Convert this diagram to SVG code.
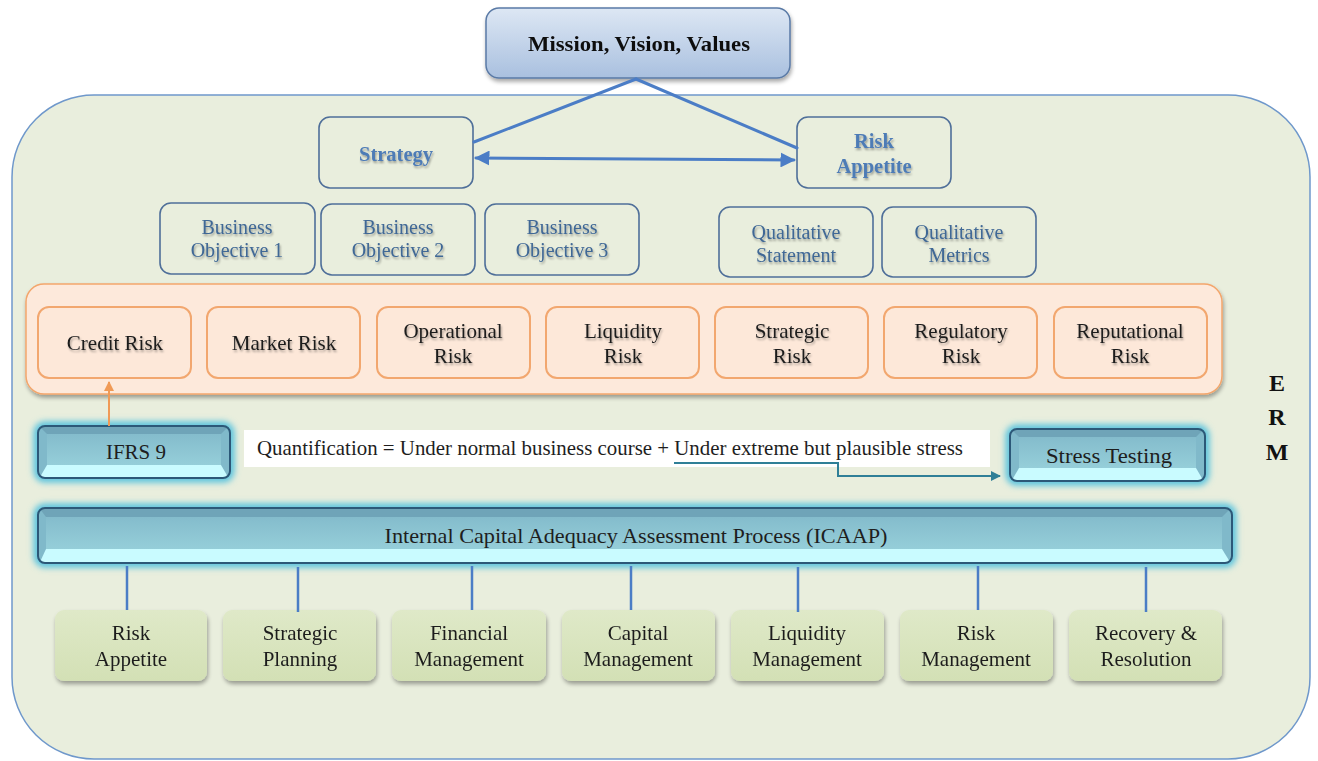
<svg xmlns="http://www.w3.org/2000/svg" width="1318" height="761" viewBox="0 0 1318 761">
  <defs>
    <style>
      .t { font-family: "Liberation Serif", "Times New Roman", serif; text-anchor: middle; }
      .blk { fill: #1e1e1e; font-size: 21px; }
      .obj { fill: #3f6795; font-size: 20px; }
      .head { fill: #4e7bb6; font-size: 20.5px; font-weight: bold; }
      .erm { fill: #111; font-size: 24px; font-weight: bold; }
      .outline { fill: none; stroke: #4f6f99; stroke-width: 1.6; }
      .risk { fill: #fde8d9; stroke: #f2a76f; stroke-width: 2; }
      .func { fill: url(#funcGrad); }
      .link { stroke: #4b7dc6; stroke-width: 3; fill: none; stroke-linecap: round; }
      .drop { stroke: #4b7dc6; stroke-width: 2.5; fill: none; }
      .bevOut { fill: none; stroke: #2c5878; stroke-width: 2; }
      .bTop { fill: #6fa4b8; }
      .bSide { fill: #80b9ca; }
      .bBot { fill: #c9fbff; }
      .bFace { fill: url(#faceGrad); }
      .glow { fill: none; stroke: #56c2de; stroke-width: 9; filter: url(#blur3); }
    </style>
    <linearGradient id="missionGrad" x1="0" y1="0" x2="0" y2="1">
      <stop offset="0" stop-color="#dde7f4"/>
      <stop offset="1" stop-color="#a9c0df"/>
    </linearGradient>
    <linearGradient id="funcGrad" x1="0" y1="0" x2="0" y2="1">
      <stop offset="0" stop-color="#dfe9c8"/>
      <stop offset="1" stop-color="#d3e0b5"/>
    </linearGradient>
    <linearGradient id="faceGrad" x1="0" y1="0" x2="0" y2="1">
      <stop offset="0" stop-color="#84bccc"/>
      <stop offset="1" stop-color="#95ced9"/>
    </linearGradient>
    <filter id="blur3" x="-10%" y="-40%" width="120%" height="180%">
      <feGaussianBlur stdDeviation="3"/>
    </filter>
    <filter id="shadow" x="-10%" y="-10%" width="120%" height="130%">
      <feGaussianBlur in="SourceAlpha" stdDeviation="2"/>
      <feOffset dx="1" dy="3"/>
      <feComponentTransfer><feFuncA type="linear" slope="0.35"/></feComponentTransfer>
      <feMerge><feMergeNode/><feMergeNode in="SourceGraphic"/></feMerge>
    </filter>
    <filter id="txtShadow" x="-10%" y="-20%" width="120%" height="150%">
      <feGaussianBlur in="SourceAlpha" stdDeviation="1.2"/>
      <feOffset dx="1" dy="2"/>
      <feComponentTransfer><feFuncA type="linear" slope="0.35"/></feComponentTransfer>
      <feMerge><feMergeNode/><feMergeNode in="SourceGraphic"/></feMerge>
    </filter>
    <marker id="arrBlue" viewBox="0 0 10 10" refX="9" refY="5" markerWidth="5" markerHeight="5" orient="auto-start-reverse">
      <path d="M0,0 L10,5 L0,10 Z" fill="#4b7dc6"/>
    </marker>
    <marker id="arrOrange" viewBox="0 0 10 10" refX="9" refY="5" markerWidth="5" markerHeight="5" orient="auto">
      <path d="M0,0 L10,5 L0,10 Z" fill="#f09a56"/>
    </marker>
    <marker id="arrTeal" viewBox="0 0 10 10" refX="9" refY="5" markerWidth="5" markerHeight="5" orient="auto">
      <path d="M0,0 L10,5 L0,10 Z" fill="#2f7f97"/>
    </marker>
  </defs>

  <rect width="1318" height="761" fill="#ffffff"/>

  <!-- ERM frame -->
  <g id="erm-frame">
    <rect x="12" y="95" width="1298" height="664" rx="82" fill="#e9eedd" stroke="#6f98cb" stroke-width="1.5"/>
    <text class="t erm" x="1277" y="391">E</text>
    <text class="t erm" x="1277" y="425">R</text>
    <text class="t erm" x="1277" y="460">M</text>
  </g>

  <!-- top level -->
  <g id="mission" filter="url(#shadow)">
    <rect x="486" y="8" width="304" height="70" rx="13" fill="url(#missionGrad)" stroke="#5a7aa6" stroke-width="1.5"/>
    <text class="t" x="639" y="51" font-size="21" font-weight="bold" fill="#111" textLength="222" lengthAdjust="spacingAndGlyphs">Mission, Vision, Values</text>
  </g>

  <g id="strategy">
    <rect class="outline" x="319" y="117" width="154" height="71" rx="11"/>
    <text class="t head" x="396" y="161" filter="url(#txtShadow)">Strategy</text>
  </g>
  <g id="risk-appetite-top">
    <rect class="outline" x="797" y="117" width="154" height="71" rx="11"/>
    <text class="t head" x="874" y="148" filter="url(#txtShadow)">Risk</text>
    <text class="t head" x="874" y="173" filter="url(#txtShadow)">Appetite</text>
  </g>

  <!-- objectives and appetite statements -->
  <g id="bo1">
    <rect class="outline" x="160" y="203" width="155" height="71" rx="11"/>
    <text class="t obj" x="237" y="234" filter="url(#txtShadow)">Business</text>
    <text class="t obj" x="237" y="257" filter="url(#txtShadow)">Objective 1</text>
  </g>
  <g id="bo2">
    <rect class="outline" x="321" y="204" width="154" height="71" rx="11"/>
    <text class="t obj" x="398" y="234" filter="url(#txtShadow)">Business</text>
    <text class="t obj" x="398" y="257" filter="url(#txtShadow)">Objective 2</text>
  </g>
  <g id="bo3">
    <rect class="outline" x="485" y="204" width="154" height="71" rx="11"/>
    <text class="t obj" x="562" y="234" filter="url(#txtShadow)">Business</text>
    <text class="t obj" x="562" y="257" filter="url(#txtShadow)">Objective 3</text>
  </g>
  <g id="qual-statement">
    <rect class="outline" x="719" y="207" width="154" height="70" rx="11"/>
    <text class="t obj" x="796" y="239" filter="url(#txtShadow)">Qualitative</text>
    <text class="t obj" x="796" y="262" filter="url(#txtShadow)">Statement</text>
  </g>
  <g id="qual-metrics">
    <rect class="outline" x="882" y="207" width="154" height="70" rx="11"/>
    <text class="t obj" x="959" y="239" filter="url(#txtShadow)">Qualitative</text>
    <text class="t obj" x="959" y="262" filter="url(#txtShadow)">Metrics</text>
  </g>

  <!-- risk categories -->
  <g id="risk-panel" filter="url(#shadow)">
    <rect x="26" y="284" width="1196" height="110" rx="18" fill="#fde9db" stroke="#f3a66c" stroke-width="1.5"/>
  </g>
  <g id="credit-risk">
    <rect class="risk" x="38" y="307" width="153" height="71" rx="11"/>
    <text class="t blk" x="115" y="350" filter="url(#txtShadow)">Credit Risk</text>
  </g>
  <g id="market-risk">
    <rect class="risk" x="207" y="307" width="153" height="71" rx="11"/>
    <text class="t blk" x="284" y="350" filter="url(#txtShadow)">Market Risk</text>
  </g>
  <g id="operational-risk">
    <rect class="risk" x="377" y="307" width="153" height="71" rx="11"/>
    <text class="t blk" x="453" y="338" filter="url(#txtShadow)">Operational</text>
    <text class="t blk" x="453" y="363" filter="url(#txtShadow)">Risk</text>
  </g>
  <g id="liquidity-risk">
    <rect class="risk" x="546" y="307" width="153" height="71" rx="11"/>
    <text class="t blk" x="623" y="338" filter="url(#txtShadow)">Liquidity</text>
    <text class="t blk" x="623" y="363" filter="url(#txtShadow)">Risk</text>
  </g>
  <g id="strategic-risk">
    <rect class="risk" x="715" y="307" width="153" height="71" rx="11"/>
    <text class="t blk" x="792" y="338" filter="url(#txtShadow)">Strategic</text>
    <text class="t blk" x="792" y="363" filter="url(#txtShadow)">Risk</text>
  </g>
  <g id="regulatory-risk">
    <rect class="risk" x="884" y="307" width="153" height="71" rx="11"/>
    <text class="t blk" x="961" y="338" filter="url(#txtShadow)">Regulatory</text>
    <text class="t blk" x="961" y="363" filter="url(#txtShadow)">Risk</text>
  </g>
  <g id="reputational-risk">
    <rect class="risk" x="1054" y="307" width="153" height="71" rx="11"/>
    <text class="t blk" x="1130" y="338" filter="url(#txtShadow)">Reputational</text>
    <text class="t blk" x="1130" y="363" filter="url(#txtShadow)">Risk</text>
  </g>

  <!-- quantification row -->
  <g id="ifrs9">
    <rect class="glow" x="38" y="426" width="192" height="52" rx="7"/>
    <rect x="38" y="426" width="192" height="52" rx="7" class="bSide"/>
    <path class="bTop" d="M40,427 L228,427 L221,434 L47,434 Z"/>
    <path class="bBot" d="M40,477 L228,477 L221,465 L47,465 Z"/>
    <rect class="bFace" x="47" y="434" width="174" height="31"/>
    <rect class="bevOut" x="38" y="426" width="192" height="52" rx="7"/>
    <text class="t blk" x="136" y="459">IFRS 9</text>
  </g>
  <g id="quantification">
    <rect x="244" y="430" width="746" height="37" fill="#ffffff"/>
    <text class="t blk" x="257" y="455" style="text-anchor:start" font-size="19" textLength="706" lengthAdjust="spacingAndGlyphs">Quantification = Under normal business course + Under extreme but plausible stress</text>
  </g>
  <g id="stress-testing">
    <rect class="glow" x="1010" y="429" width="195" height="52" rx="7"/>
    <rect x="1010" y="429" width="195" height="52" rx="7" class="bSide"/>
    <path class="bTop" d="M1012,430 L1203,430 L1196,437 L1019,437 Z"/>
    <path class="bBot" d="M1012,480 L1203,480 L1196,468 L1019,468 Z"/>
    <rect class="bFace" x="1019" y="437" width="177" height="31"/>
    <rect class="bevOut" x="1010" y="429" width="195" height="52" rx="7"/>
    <text class="t blk" x="1109" y="463" textLength="126" lengthAdjust="spacingAndGlyphs">Stress Testing</text>
  </g>

  <!-- ICAAP -->
  <g id="icaap">
    <rect class="glow" x="38" y="508" width="1194" height="55" rx="7"/>
    <rect x="38" y="508" width="1194" height="55" rx="7" class="bSide"/>
    <path class="bTop" d="M40,509 L1230,509 L1222,517 L46,517 Z"/>
    <path class="bBot" d="M40,562 L1230,562 L1222,549 L46,549 Z"/>
    <rect class="bFace" x="46" y="517" width="1176" height="32"/>
    <rect class="bevOut" x="38" y="508" width="1194" height="55" rx="7"/>
    <text class="t blk" x="636" y="543" textLength="503" lengthAdjust="spacingAndGlyphs">Internal Capital Adequacy Assessment Process (ICAAP)</text>
  </g>

  <!-- functions -->
  <g id="f-risk-appetite" filter="url(#shadow)">
    <rect class="func" x="55" y="610" width="152" height="71" rx="9"/>
    <text class="t blk" x="131" y="640">Risk</text>
    <text class="t blk" x="131" y="666">Appetite</text>
  </g>
  <g id="f-strategic-planning" filter="url(#shadow)">
    <rect class="func" x="223" y="610" width="153" height="71" rx="9"/>
    <text class="t blk" x="300" y="640">Strategic</text>
    <text class="t blk" x="300" y="666">Planning</text>
  </g>
  <g id="f-financial" filter="url(#shadow)">
    <rect class="func" x="392" y="610" width="154" height="71" rx="9"/>
    <text class="t blk" x="469" y="640">Financial</text>
    <text class="t blk" x="469" y="666">Management</text>
  </g>
  <g id="f-capital" filter="url(#shadow)">
    <rect class="func" x="562" y="610" width="153" height="71" rx="9"/>
    <text class="t blk" x="638" y="640">Capital</text>
    <text class="t blk" x="638" y="666">Management</text>
  </g>
  <g id="f-liquidity" filter="url(#shadow)">
    <rect class="func" x="731" y="610" width="153" height="71" rx="9"/>
    <text class="t blk" x="807" y="640">Liquidity</text>
    <text class="t blk" x="807" y="666">Management</text>
  </g>
  <g id="f-risk-management" filter="url(#shadow)">
    <rect class="func" x="900" y="610" width="153" height="71" rx="9"/>
    <text class="t blk" x="976" y="640">Risk</text>
    <text class="t blk" x="976" y="666">Management</text>
  </g>
  <g id="f-recovery" filter="url(#shadow)">
    <rect class="func" x="1069" y="610" width="153" height="71" rx="9"/>
    <text class="t blk" x="1146" y="640">Recovery &amp;</text>
    <text class="t blk" x="1146" y="666">Resolution</text>
  </g>

  <!-- connectors -->
  <g id="connectors">
    <path class="link" d="M636,79 L474,142"/>
    <path class="link" d="M636,79 L797,148"/>
    <path class="link" stroke-width="2.5" d="M476,158 L794,160" marker-start="url(#arrBlue)" marker-end="url(#arrBlue)"/>
    <path d="M109,426 L109,382" stroke="#f09a56" stroke-width="2" fill="none" marker-end="url(#arrOrange)"/>
    <path d="M674,463 L838,463 L838,476 L1000,476" stroke="#2f7f97" stroke-width="2" fill="none" marker-end="url(#arrTeal)"/>
    <path class="drop" d="M127,566 V610"/>
    <path class="drop" d="M298,567 V612"/>
    <path class="drop" d="M472,566 V610"/>
    <path class="drop" d="M631,566 V610"/>
    <path class="drop" d="M798,567 V612"/>
    <path class="drop" d="M978,566 V610"/>
    <path class="drop" d="M1146,567 V612"/>
  </g>
</svg>
